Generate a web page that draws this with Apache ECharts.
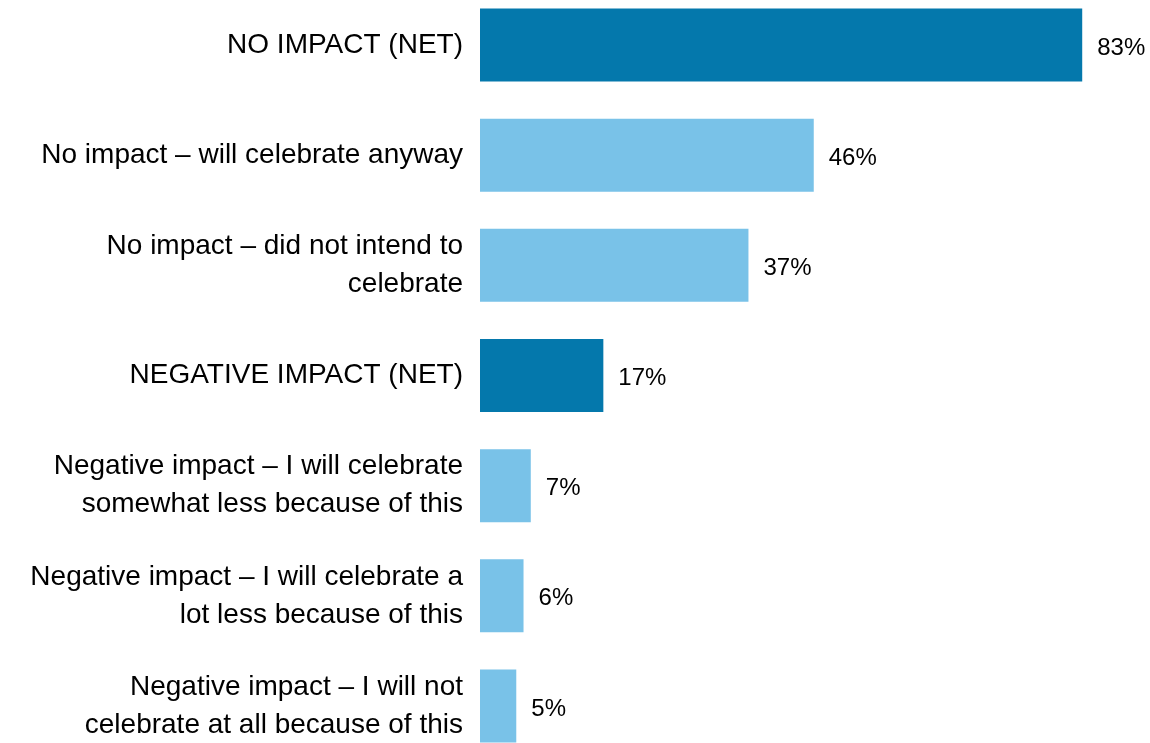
<!DOCTYPE html>
<html>
<head>
<meta charset="utf-8">
<script src="https://cdn.jsdelivr.net/npm/echarts@6/dist/echarts.min.js"></script>
<style>
    html, body { margin: 0; padding: 0; background: #fff; overflow: hidden; }
    /* bands run slightly past the top and bottom edges of the picture */
    #chart { width: 1150px; height: 771px; margin-top: -10px; }
</style>
</head>
<body>
<div id="chart"></div>
<script>
    // categories, top to bottom
    const categories = [
        'NO IMPACT (NET)',
        'No impact \u2013 will celebrate anyway',
        'No impact \u2013 did not intend to\ncelebrate',
        'NEGATIVE IMPACT (NET)',
        'Negative impact \u2013 I will celebrate\nsomewhat less because of this',
        'Negative impact \u2013 I will celebrate a\nlot less because of this',
        'Negative impact \u2013 I will not\ncelebrate at all because of this'
    ];
    // percent of respondents
    const values = [83, 46, 37, 17, 7, 6, 5];

    const DARK = '#0478ac';
    const LIGHT = '#79c2e8';

    const chart = echarts.init(document.getElementById('chart'));
    chart.setOption({
        animation: false,
        grid: {
            left: 480,
            right: 17,
            top: 0,
            bottom: 0,
            containLabel: false
        },
        xAxis: {
            type: 'value',
            min: 0,
            max: 90,
            show: false
        },
        yAxis: {
            type: 'category',
            inverse: true,
            data: categories,
            axisLine: { show: false },
            axisTick: { show: false },
            axisLabel: {
                margin: 17,
                color: '#000',
                fontSize: 28,
                lineHeight: 38,
                fontFamily: 'Liberation Sans',
                align: 'right',
                padding: [8, 0, 0, 0]
            }
        },
        series: [{
            type: 'bar',
            barWidth: 73,
            data: values.map(function (v, i) {
                return {
                    value: v,
                    itemStyle: { color: categories[i].indexOf('(NET)') >= 0 ? DARK : LIGHT }
                };
            }),
            label: {
                show: true,
                position: 'right',
                distance: 15,
                offset: [0, 3],
                color: '#000',
                fontSize: 24,
                fontFamily: 'Liberation Sans',
                formatter: '{c}%'
            }
        }]
    });
</script>
</body>
</html>
